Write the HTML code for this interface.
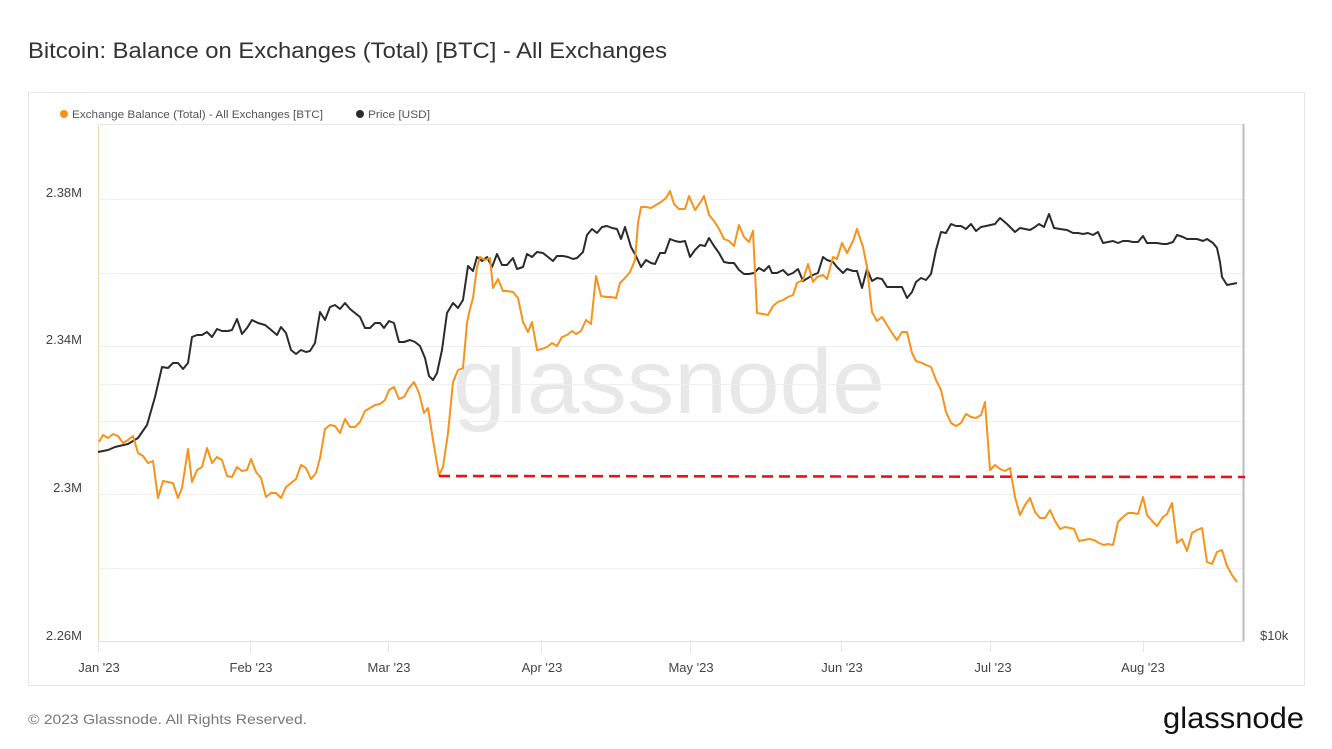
<!DOCTYPE html>
<html>
<head>
<meta charset="utf-8">
<style>
html,body{margin:0;padding:0;background:#fff;}
svg{display:block;}
text{font-family:"Liberation Sans",Arial,sans-serif;}
</style>
</head>
<body>
<svg width="1332" height="749" viewBox="0 0 1332 749" xmlns="http://www.w3.org/2000/svg">
<rect x="0" y="0" width="1332" height="749" fill="#fff"/>
<text x="28" y="58" font-size="22" fill="#333" textLength="639" lengthAdjust="spacingAndGlyphs">Bitcoin: Balance on Exchanges (Total) [BTC] - All Exchanges</text>

<rect x="28.5" y="92.5" width="1276" height="593" fill="#fff" stroke="#e6e6e6" stroke-width="1"/>

<!-- legend -->
<circle cx="64" cy="114" r="4" fill="#f7931a"/>
<text x="72" y="118" font-size="11" fill="#555" textLength="251" lengthAdjust="spacingAndGlyphs">Exchange Balance (Total) - All Exchanges [BTC]</text>
<circle cx="360" cy="114" r="4" fill="#2b2b2b"/>
<text x="368" y="118" font-size="11" fill="#555" textLength="62" lengthAdjust="spacingAndGlyphs">Price [USD]</text>

<!-- watermark -->
<text x="453" y="413" font-size="92" fill="#e8e8e8" textLength="432" lengthAdjust="spacingAndGlyphs">glassnode</text>

<!-- grid -->
<g stroke="#efefef" stroke-width="1">
<line x1="99" y1="124.5" x2="1243" y2="124.5" stroke="#e8e8e8"/>
<line x1="99" y1="199.5" x2="1243" y2="199.5"/>
<line x1="99" y1="273.5" x2="1243" y2="273.5"/>
<line x1="99" y1="346.5" x2="1243" y2="346.5"/>
<line x1="99" y1="384.5" x2="1243" y2="384.5"/>
<line x1="99" y1="421.5" x2="1243" y2="421.5"/>
<line x1="99" y1="494.5" x2="1243" y2="494.5"/>
<line x1="99" y1="568.5" x2="1243" y2="568.5"/>
</g>
<line x1="98" y1="641.5" x2="1244" y2="641.5" stroke="#e0e0e0" stroke-width="1"/>
<g stroke="#e5e5e5" stroke-width="1">
<line x1="98.5" y1="642" x2="98.5" y2="652"/>
<line x1="250.5" y1="642" x2="250.5" y2="652"/>
<line x1="388.5" y1="642" x2="388.5" y2="652"/>
<line x1="541.5" y1="642" x2="541.5" y2="652"/>
<line x1="690.5" y1="642" x2="690.5" y2="652"/>
<line x1="841.5" y1="642" x2="841.5" y2="652"/>
<line x1="990.5" y1="642" x2="990.5" y2="652"/>
<line x1="1143.5" y1="642" x2="1143.5" y2="652"/>
</g>
<line x1="98.5" y1="125" x2="98.5" y2="641" stroke="#f3d9b0" stroke-width="1"/>
<line x1="1243.5" y1="124" x2="1243.5" y2="641" stroke="#bdbdbd" stroke-width="2"/>

<!-- y labels -->
<g font-size="13" fill="#444" text-anchor="end">
<text x="82" y="197">2.38M</text>
<text x="82" y="344">2.34M</text>
<text x="82" y="492">2.3M</text>
<text x="82" y="640">2.26M</text>
</g>
<text x="1260" y="640" font-size="13" fill="#444">$10k</text>

<!-- x labels -->
<g font-size="13" fill="#444" text-anchor="middle">
<text x="99" y="672">Jan '23</text>
<text x="251" y="672">Feb '23</text>
<text x="389" y="672">Mar '23</text>
<text x="542" y="672">Apr '23</text>
<text x="691" y="672">May '23</text>
<text x="842" y="672">Jun '23</text>
<text x="993" y="672">Jul '23</text>
<text x="1143" y="672">Aug '23</text>
</g>

<!-- price -->
<polyline fill="none" stroke="#2b2b2b" stroke-width="2" stroke-linejoin="round" points="98,452 108,450 115,447 128,444 138,438 147,425 155,397 162,367 168,368 173,363 178,363 183,369 188,363 192,337 197,335 202,335 207,332 212,337 217,329 222,331 228,331 232,330 237,319 242,334 247,328 252,320 258,323 265,325 270,329 277,335 281,327 286,333 291,350 296,354 301,350 306,352 310,351 315,343 320,312 325,320 330,307 335,305 340,309 345,303 350,309 355,313 360,317 365,328 370,328 375,323 380,323 384,328 389,321 394,323 399,342 404,342 410,340 415,342 420,346 425,358 429,376 433,380 437,373 442,350 447,313 453,303 458,308 463,300 468,266 473,271 477,257 482,261 487,257 492,267 497,254 502,265 507,265 513,258 517,269 523,267 527,254 532,257 537,252 543,253 548,257 553,261 557,256 563,256 568,257 573,259 577,258 583,252 587,235 592,229 597,233 602,227 607,226 612,228 617,229 621,239 625,227 631,247 636,256 641,267 646,260 651,263 655,264 660,253 665,253 670,239 675,241 680,242 685,241 690,257 695,250 700,245 705,246 709,238 714,246 719,253 724,262 729,263 734,263 739,270 744,274 749,274 754,273 759,268 764,271 769,266 772,273 777,273 783,270 788,275 793,273 798,269 803,281 808,278 813,275 818,273 823,257 827,260 833,262 837,267 843,273 847,269 853,271 857,271 862,288 867,269 872,281 877,278 882,279 887,287 892,287 897,287 902,287 907,298 912,292 916,282 921,278 926,280 931,274 936,250 941,232 946,233 951,224 956,226 961,226 966,229 971,224 976,231 981,227 986,226 995,224 1000,218 1007,224 1015,232 1020,228 1025,229 1030,230 1035,227 1039,224 1044,227 1049,214 1054,228 1060,229 1067,230 1073,233 1078,233 1083,234 1088,233 1093,235 1098,232 1103,243 1108,242 1113,241 1118,243 1123,241 1128,241 1133,242 1138,242 1143,236 1147,243 1153,243 1157,243 1163,244 1167,244 1173,242 1177,235 1183,237 1187,239 1193,239 1197,239 1203,241 1207,239 1213,243 1217,248 1220,262 1222,277 1227,285 1232,284 1237,283"/>

<!-- exchange balance -->
<polyline fill="none" stroke="#f7931a" stroke-width="2" stroke-linejoin="round" points="99,442 103,435 108,438 113,434 118,436 123,443 128,440 133,436 138,453 143,456 148,463 153,461 158,498 163,481 168,482 173,483 178,498 182,488 188,449 192,482 197,470 202,467 207,448 212,463 217,457 222,460 227,476 232,477 237,467 242,471 247,470 251,459 256,472 261,478 266,497 271,493 276,493 281,498 286,487 291,483 296,479 301,465 306,468 311,479 316,473 320,458 325,429 330,425 335,426 340,433 345,419 350,427 355,427 360,422 365,411 370,408 375,405 380,404 385,400 389,390 394,387 399,399 404,397 409,388 414,382 419,393 424,413 428,408 433,440 439,475 443,467 448,433 453,382 458,370 463,368 467,323 469,313 473,298 477,267 480,257 485,260 490,258 493,288 498,279 503,291 507,291 513,292 518,298 523,322 528,332 532,322 537,350 542,349 547,347 552,343 557,346 562,337 567,335 572,331 576,334 581,331 586,320 591,324 596,276 601,296 606,297 611,297 616,298 620,283 625,278 630,272 635,260 638,223 641,207 646,207 651,208 656,205 661,202 666,198 670,191 674,204 679,209 685,209 689,196 695,210 700,203 704,196 709,215 714,221 719,229 724,239 729,241 734,246 739,225 744,237 749,242 753,231 757,313 763,314 768,315 773,306 778,302 783,300 788,297 793,295 797,283 803,280 808,264 813,282 817,277 823,275 827,279 833,257 837,259 842,243 847,253 853,241 857,229 863,247 867,267 872,312 877,321 882,317 887,325 892,333 897,340 902,332 907,332 912,353 916,361 922,363 926,365 931,367 936,380 941,390 946,412 951,423 956,426 961,423 966,414 971,417 976,418 981,415 985,402 990,470 995,465 1000,469 1005,471 1010,468 1015,497 1020,515 1025,505 1030,498 1035,512 1040,518 1045,518 1050,510 1055,521 1060,529 1065,527 1070,528 1074,529 1079,541 1084,540 1089,539 1094,540 1099,543 1104,545 1108,544 1113,545 1118,522 1123,517 1128,513 1133,513 1138,514 1143,497 1147,515 1153,522 1157,526 1163,517 1167,514 1172,503 1177,543 1182,539 1187,551 1192,533 1197,530 1202,528 1207,562 1212,564 1217,552 1222,550 1227,566 1232,575 1237,582"/>

<!-- red dashed -->
<line x1="439" y1="476" x2="1245" y2="477" stroke="#e8141c" stroke-width="2.6" stroke-dasharray="11 6"/>

<!-- footer -->
<text x="28" y="724" font-size="14" fill="#777" textLength="279" lengthAdjust="spacingAndGlyphs">© 2023 Glassnode. All Rights Reserved.</text>
<text x="1163" y="728" font-size="30" fill="#111" textLength="141" lengthAdjust="spacingAndGlyphs">glassnode</text>
</svg>
</body>
</html>
